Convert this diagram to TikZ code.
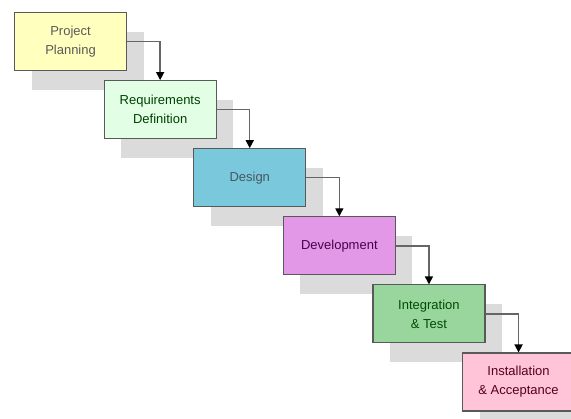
\documentclass[tikz,border=0pt]{standalone}
\usepackage{fontspec}
\setmainfont{Liberation Sans}
\usepackage{tikz}
\usetikzlibrary{positioning, arrows.meta, shadows}
\usepackage{xcolor}

\definecolor{planfill}{RGB}{255,255,190}
\definecolor{reqfill}{RGB}{226,255,230}
\definecolor{designfill}{RGB}{122,200,220}
\definecolor{devfill}{RGB}{226,152,230}
\definecolor{testfill}{RGB}{152,214,158}
\definecolor{installfill}{RGB}{255,196,215}

\begin{document}
\begin{tikzpicture}[
    stage/.style={rectangle, draw=black!65, line width=1.1pt,
                  minimum width=112pt, minimum height=58pt,
                  inner sep=2pt, align=center,
                  font=\fontsize{13}{19}\selectfont,
                  drop shadow={shadow xshift=17pt, shadow yshift=-19pt,
                               fill=black!14, opacity=1}},
    flow/.style={draw=black!60, line width=1.4pt,
                 -{Triangle[length=8pt, width=8pt, color=black]}}
]
\useasboundingbox (0,0) rectangle (571pt,-419pt);

\node[stage, fill=planfill, text=black!65, anchor=north west]
  (plan) at (14pt,-12pt) {Project\\Planning};
\node[stage, fill=reqfill, text=green!25!black, below right=9pt and -23.5pt of plan]
  (req) {Requirements\\Definition};
\node[stage, fill=designfill, text=cyan!30!black, below right=9pt and -23.5pt of req]
  (design) {Design};
\node[stage, fill=devfill, text=violet!60!black, below right=9pt and -23.5pt of design]
  (dev) {Development};
\node[stage, fill=testfill, text=green!30!black, below right=9pt and -23.5pt of dev]
  (test) {Integration\\\& Test};
\node[stage, fill=installfill, text=purple!45!black, below right=9pt and -23.5pt of test]
  (install) {Installation\\\& Acceptance};

% step arrows
\draw[flow] (plan.east) -| (req.north);
\draw[flow] (req.east) -| (design.north);
\draw[flow] (design.east) -| (dev.north);
\draw[flow] (dev.east) -| (test.north);
\draw[flow] (test.east) -| (install.north);
\end{tikzpicture}
\end{document}
